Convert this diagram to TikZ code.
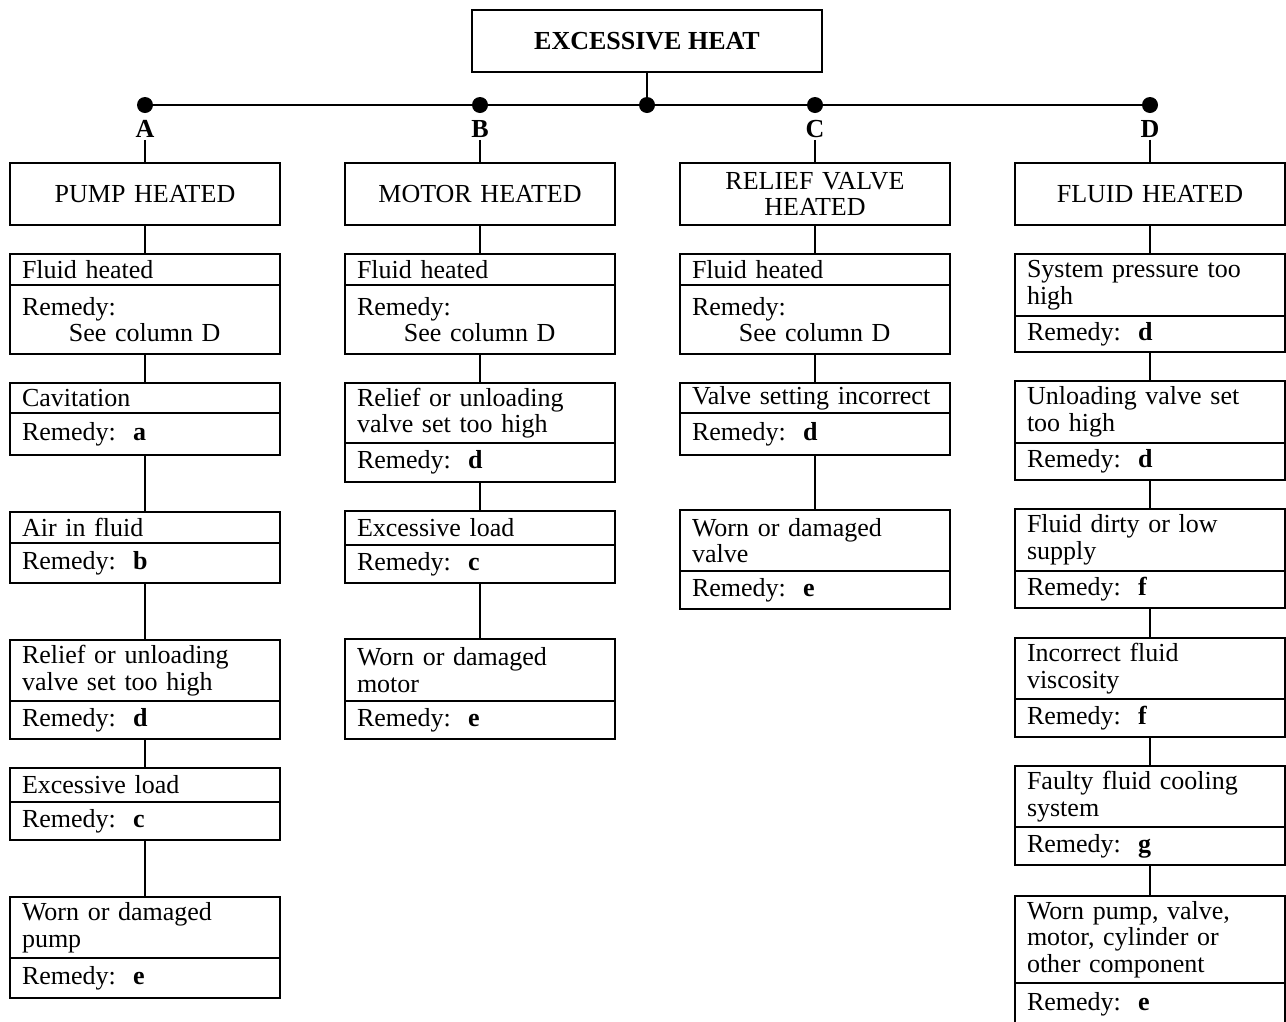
\documentclass[tikz,border=0pt]{standalone}
\usepackage{fontspec}
\setmainfont{Liberation Serif}
\begin{document}
\begin{tikzpicture}[x=1pt,y=-1pt,
  font=\fontsize{26}{26.5}\selectfont,
  cell/.style={draw, line width=2.5pt, outer sep=0pt, inner xsep=12pt, inner ysep=0pt, text width=246pt, align=left, minimum width=270pt},
  head/.style={draw, line width=2.5pt, outer sep=0pt, inner xsep=12pt, inner ysep=0pt, text width=246pt, align=center, minimum height=62pt},
  link/.style={line width=2.5pt},
  dot/.style={circle, fill=black, inner sep=0pt, minimum size=16pt},
  letter/.style={inner sep=2pt, font=\fontsize{26}{26}\selectfont\bfseries}]
\useasboundingbox (0,0) rectangle (1286,1021);
\newcommand\mkitem[7]{%
  \node[cell, minimum height={#4-#3}, anchor=north] (#1t) at (#2,#3) {#6};
  \node[cell, minimum height={#5-#4}, anchor=north] (#1r) at (#1t.south) {#7};}
\newcommand\rem[1]{Remedy:\ \ \textbf{#1}}
\newcommand\seeD{Remedy:\\\hspace*{1.8em}See column D}

% top
\node[draw, line width=2.5pt, outer sep=0pt, minimum width=350pt, minimum height=62pt, font=\fontsize{26}{26}\selectfont\bfseries] (top) at (647,41) {EXCESSIVE HEAT};
\node[dot] (dM) at (647,105) {};
\node[dot] (dA) at (145,105) {};
\node[dot] (dB) at (480,105) {};
\node[dot] (dC) at (815,105) {};
\node[dot] (dD) at (1150,105) {};
\draw[link] (top.south) -- (dM.center);
\draw[link] (dA.center) -- (dD.center);

\node[letter] (lA) at (145,129) {A};
\node[letter] (lB) at (480,129) {B};
\node[letter] (lC) at (815,129) {C};
\node[letter] (lD) at (1150,129) {D};

\node[head, anchor=north] (hA) at (145,163) {PUMP HEATED};
\node[head, anchor=north] (hB) at (480,163) {MOTOR HEATED};
\node[head, anchor=north] (hC) at (815,163) {RELIEF VALVE\\HEATED};
\node[head, anchor=north] (hD) at (1150,163) {FLUID HEATED};
\foreach \c in {A,B,C,D} {\draw[link] (l\c.south) -- (h\c.north);}

% column A
\mkitem{A1}{145}{254}{285}{354}{Fluid heated}{\seeD}
\mkitem{A2}{145}{383}{413}{455}{Cavitation}{\rem{a}}
\mkitem{A3}{145}{512}{543}{583}{Air in fluid}{\rem{b}}
\mkitem{A4}{145}{640}{701}{739}{Relief or unloading\\valve set too high}{\rem{d}}
\mkitem{A5}{145}{768}{802}{840}{Excessive load}{\rem{c}}
\mkitem{A6}{145}{897}{958}{998}{Worn or damaged\\pump}{\rem{e}}
\draw[link] (hA.south) -- (A1t.north);
\draw[link] (A1r.south) -- (A2t.north);
\draw[link] (A2r.south) -- (A3t.north);
\draw[link] (A3r.south) -- (A4t.north);
\draw[link] (A4r.south) -- (A5t.north);
\draw[link] (A5r.south) -- (A6t.north);

% column B
\mkitem{B1}{480}{254}{285}{354}{Fluid heated}{\seeD}
\mkitem{B2}{480}{383}{443}{482}{Relief or unloading\\valve set too high}{\rem{d}}
\mkitem{B3}{480}{511}{545}{583}{Excessive load}{\rem{c}}
\mkitem{B4}{480}{639}{701}{739}{Worn or damaged\\motor}{\rem{e}}
\draw[link] (hB.south) -- (B1t.north);
\draw[link] (B1r.south) -- (B2t.north);
\draw[link] (B2r.south) -- (B3t.north);
\draw[link] (B3r.south) -- (B4t.north);

% column C
\mkitem{C1}{815}{254}{285}{354}{Fluid heated}{\seeD}
\mkitem{C2}{815}{383}{413}{455}{Valve setting incorrect}{\rem{d}}
\mkitem{C3}{815}{510}{571}{609}{Worn or damaged\\valve}{\rem{e}}
\draw[link] (hC.south) -- (C1t.north);
\draw[link] (C1r.south) -- (C2t.north);
\draw[link] (C2r.south) -- (C3t.north);

% column D
\mkitem{D1}{1150}{254}{316}{352}{System pressure too\\high}{\rem{d}}
\mkitem{D2}{1150}{381}{443}{480}{Unloading valve set\\too high}{\rem{d}}
\mkitem{D3}{1150}{509}{571}{608}{Fluid dirty or low\\supply}{\rem{f}}
\mkitem{D4}{1150}{638}{699}{737}{Incorrect fluid\\viscosity}{\rem{f}}
\mkitem{D5}{1150}{766}{827}{865}{Faulty fluid cooling\\system}{\rem{g}}
\mkitem{D6}{1150}{896}{983}{1026}{Worn pump, valve,\\motor, cylinder or\\other component}{\rem{e}}
\draw[link] (hD.south) -- (D1t.north);
\draw[link] (D1r.south) -- (D2t.north);
\draw[link] (D2r.south) -- (D3t.north);
\draw[link] (D3r.south) -- (D4t.north);
\draw[link] (D4r.south) -- (D5t.north);
\draw[link] (D5r.south) -- (D6t.north);
\end{tikzpicture}
\end{document}
